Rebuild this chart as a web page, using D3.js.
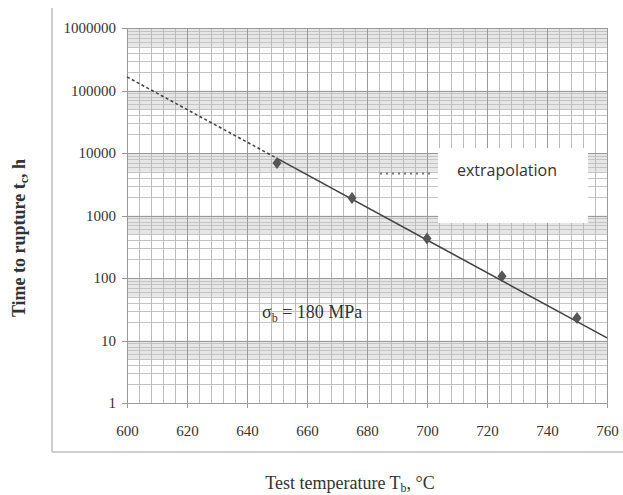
<!DOCTYPE html>
<html>
<head>
<meta charset="utf-8">
<script src="https://cdn.jsdelivr.net/npm/d3@7"></script>
<style>
  html, body { margin: 0; padding: 0; background: #fff; }
  svg { display: block; }
</style>
</head>
<body>
<svg id="chart" width="623" height="495"></svg>
<script>
// ---- data ----
const temps = [650, 675, 700, 725, 750];            // test temperature, °C
const ruptureHours = [6900, 1900, 430, 107, 23];    // time to rupture, h
const extrapTemps = [600, 650];                      // dashed extrapolation segment
const extrapHours = [165000, 8200];
const fitTemps = [650, 760];                         // solid fitted line
const fitHours = [8200, 11];
const xTicks = [600, 620, 640, 660, 680, 700, 720, 740, 760];
const yTicks = [1, 10, 100, 1000, 10000, 100000, 1000000];
const xMinorStep = 4;
const yMinorMultipliers = [2, 3, 4, 5, 6, 7, 8, 9];
const legendLabel = "extrapolation";
const stressLabel = "180 MPa";

// ---- layout ----
const svg = d3.select("#chart");
const m = { left: 127, right: 607, top: 28, bottom: 403 };

const x = d3.scaleLinear().domain([600, 760]).range([m.left, m.right]);
const y = d3.scaleLog().domain([1, 1000000]).range([m.bottom, m.top]);

// outer chart-area border (left and bottom)
svg.append("line").attr("x1", 52).attr("x2", 52).attr("y1", 8).attr("y2", 452)
  .attr("stroke", "#cfcfcf").attr("stroke-width", 2);
svg.append("line").attr("x1", 52).attr("x2", 623).attr("y1", 452).attr("y2", 452)
  .attr("stroke", "#cfcfcf").attr("stroke-width", 2);

const grid = svg.append("g");

// shaded bands where minor log gridlines crowd (from 10^n down to 5*10^(n-1))
yTicks.slice(1).forEach(v => {
  grid.append("rect")
    .attr("x", m.left).attr("width", m.right - m.left)
    .attr("y", y(v)).attr("height", y(v / 2) - y(v))
    .attr("fill", "#e6e6e6");
});

// horizontal minor gridlines
yTicks.slice(0, -1).forEach(v => {
  yMinorMultipliers.forEach(k => {
    grid.append("line")
      .attr("x1", m.left).attr("x2", m.right)
      .attr("y1", Math.round(y(v * k)) + 0.5).attr("y2", Math.round(y(v * k)) + 0.5)
      .attr("stroke", "#c4c4c4").attr("stroke-width", 1);
  });
});

// vertical minor gridlines
d3.range(600, 760 + 0.001, xMinorStep).forEach(t => {
  grid.append("line")
    .attr("x1", Math.round(x(t)) + 0.5).attr("x2", Math.round(x(t)) + 0.5)
    .attr("y1", m.top).attr("y2", m.bottom)
    .attr("stroke", "#bcbcbc").attr("stroke-width", 1);
});

// major gridlines
yTicks.forEach(v => {
  grid.append("line")
    .attr("x1", m.left - 5).attr("x2", m.right)
    .attr("y1", Math.round(y(v)) + 0.5).attr("y2", Math.round(y(v)) + 0.5)
    .attr("stroke", "#9a9a9a").attr("stroke-width", 1);
});
xTicks.forEach(t => {
  grid.append("line")
    .attr("x1", Math.round(x(t)) + 0.5).attr("x2", Math.round(x(t)) + 0.5)
    .attr("y1", m.top).attr("y2", m.bottom + 5)
    .attr("stroke", "#9a9a9a").attr("stroke-width", 1);
});

// axes labels via d3 axes (no domain line)
const yAxis = svg.append("g").attr("transform", `translate(${m.left - 6},0)`)
  .call(d3.axisLeft(y).tickValues(yTicks).tickFormat(d3.format("d")).tickSize(0));
yAxis.select(".domain").remove();
yAxis.selectAll("text")
  .attr("font-family", "'Liberation Serif', 'Times New Roman', serif")
  .attr("font-size", 15).attr("fill", "#333").attr("dx", "-2");

const xAxis = svg.append("g").attr("transform", `translate(0,${m.bottom + 12})`)
  .call(d3.axisBottom(x).tickValues(xTicks).tickFormat(d3.format("d")).tickSize(0));
xAxis.select(".domain").remove();
xAxis.selectAll("text")
  .attr("font-family", "'Liberation Serif', 'Times New Roman', serif")
  .attr("font-size", 15).attr("fill", "#333").attr("dy", "1.2em");

// plot border
svg.append("rect").attr("x", m.left + 0.5).attr("y", m.top + 0.5)
  .attr("width", m.right - m.left).attr("height", m.bottom - m.top)
  .attr("fill", "none").attr("stroke", "#9a9a9a");

// lines
const line = d3.line().x(d => x(d[0])).y(d => y(d[1]));
svg.append("path").datum(d3.zip(extrapTemps, extrapHours))
  .attr("d", line).attr("fill", "none")
  .attr("stroke", "#444").attr("stroke-width", 1.6).attr("stroke-dasharray", "3,2.5");
svg.append("path").datum(d3.zip(fitTemps, fitHours))
  .attr("d", line).attr("fill", "none")
  .attr("stroke", "#444").attr("stroke-width", 1.6);

// diamond markers
svg.selectAll(".pt").data(d3.zip(temps, ruptureHours)).enter()
  .append("path").attr("class", "pt")
  .attr("transform", d => `translate(${x(d[0])},${y(d[1])})`)
  .attr("d", "M0,-6L4.5,0L0,6L-4.5,0Z")
  .attr("fill", "#555");

// legend
const lg = svg.append("g");
lg.append("rect").attr("x", 438).attr("y", 148).attr("width", 150).attr("height", 75)
  .attr("fill", "#fff");
lg.append("line").attr("x1", 380).attr("x2", 433).attr("y1", 173.5).attr("y2", 173.5)
  .attr("stroke", "#777").attr("stroke-width", 2).attr("stroke-dasharray", "2,4");
lg.append("text").attr("x", 457).attr("y", 176).text(legendLabel)
  .attr("font-family", "'Open Sans', 'Liberation Sans', sans-serif")
  .attr("font-size", 16).attr("fill", "#333");

// stress annotation
const st = svg.append("text").attr("x", 262).attr("y", 318)
  .attr("font-family", "'Liberation Serif', 'Times New Roman', serif")
  .attr("font-size", 18).attr("fill", "#333");
st.append("tspan").text("σ");
st.append("tspan").attr("font-size", 12).attr("dy", 4).text("b");
st.append("tspan").attr("dy", -4).text(" = " + stressLabel);

// axis titles
const yt = svg.append("text")
  .attr("transform", "translate(25,238) rotate(-90)")
  .attr("text-anchor", "middle")
  .attr("font-family", "'Liberation Serif', 'Times New Roman', serif")
  .attr("font-weight", "bold").attr("font-size", 18).attr("fill", "#333");
yt.append("tspan").text("Time to rupture t");
yt.append("tspan").attr("font-size", 12).attr("dy", 3).text("c");
yt.append("tspan").attr("dy", -3).text(", h");

const xt = svg.append("text")
  .attr("x", 350).attr("y", 489)
  .attr("text-anchor", "middle")
  .attr("font-family", "'Liberation Serif', 'Times New Roman', serif")
  .attr("font-size", 18).attr("fill", "#333");
xt.append("tspan").text("Test temperature T");
xt.append("tspan").attr("font-size", 12).attr("dy", 3).text("b");
xt.append("tspan").attr("dy", -3).text(", °C");
</script>
</body>
</html>
